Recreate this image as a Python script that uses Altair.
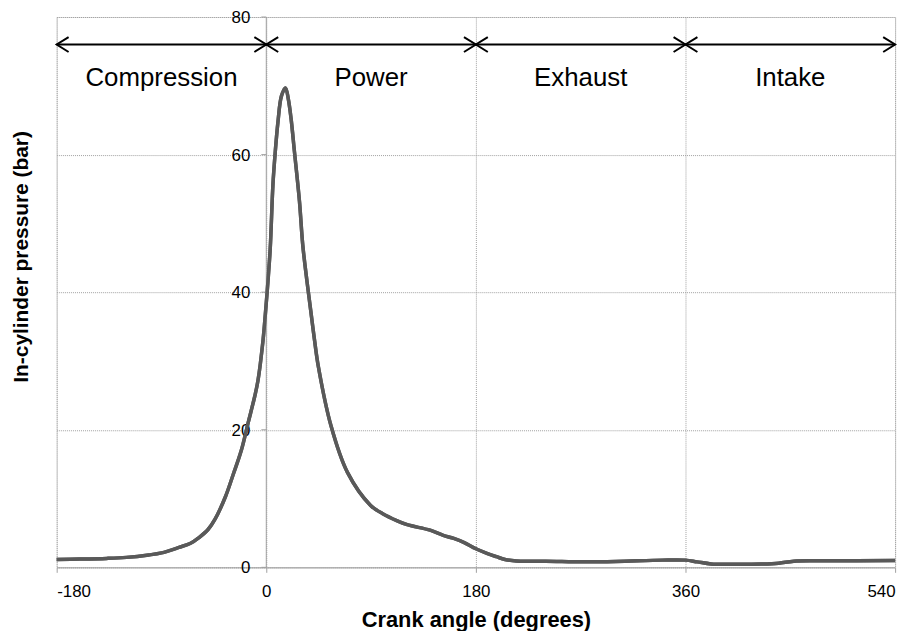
import altair as alt
import pandas as pd

# ---- data ----
angle = [-180, -160, -137, -120, -101, -90, -75, -65, -58, -50, -44, -35, -28.4,
         -21.3, -15.6, -10, -7.1, -2.8, -0.8, 1.45, 3.4, 5.7, 7.7, 10, 13, 16.5,
         19, 21.3, 24.2, 28.5, 31.3, 35, 38.4, 41.3, 44.7, 55.7, 69.7, 89.6, 100,
         112, 121, 140.7, 152, 161, 170, 180, 190, 197.6, 205, 214.7, 240, 272,
         300, 340, 360, 370, 382, 400, 425, 440, 453, 480, 540]
pressure = [1.15, 1.2, 1.3, 1.45, 1.8, 2.1, 2.9, 3.5, 4.3, 5.5, 7.0, 10.3, 13.5,
            17.1, 21.0, 24.8, 27.2, 33.0, 36.8, 41.6, 46.4, 55.6, 60.4, 64.7, 68.5, 69.7,
            68.0, 65.2, 60.4, 53.2, 46.9, 41.5, 37.0, 33.2, 29.2, 20.5, 13.8, 9.0, 7.8,
            6.8, 6.2, 5.4, 4.65, 4.2, 3.6, 2.7, 2.0, 1.55, 1.15, 0.92, 0.9, 0.8,
            0.85, 1.05, 1.05, 0.8, 0.5, 0.45, 0.48, 0.6, 0.9, 0.95, 1.0]

x_ticks = [-180, 0, 180, 360, 540]
y_ticks = [0, 20, 40, 60, 80]

phases = ["Compression", "Power", "Exhaust", "Intake"]
phase_start = [-180, 0, 180, 360]
phase_end = [0, 180, 360, 540]
arrow_level = 76
label_level = 70

# ---- tables ----
curve_df = pd.DataFrame({"angle": angle, "pressure": pressure})
phase_df = pd.DataFrame({"phase": phases, "start": phase_start, "end": phase_end})
phase_df["mid"] = (phase_df["start"] + phase_df["end"]) / 2
phase_df["arrow"] = arrow_level
phase_df["label_y"] = label_level
ytick_df = pd.DataFrame({"v": y_ticks, "zero": [0] * len(y_ticks)})
yaxis_df = pd.DataFrame({"zero": [0], "lo": [y_ticks[0]], "hi": [y_ticks[-1]]})

xs = alt.Scale(domain=[-180, 540], nice=False, zero=False)
ys = alt.Scale(domain=[0, 80], nice=False)

FONT = "Liberation Sans"
grid_color = "#a0a0a0"
axis_color = "#a0a0a0"

curve = alt.Chart(curve_df).mark_line(
    color="#595959", strokeWidth=3.5, interpolate="catmull-rom"
).encode(
    x=alt.X("angle:Q", scale=xs, axis=alt.Axis(
        values=x_ticks, grid=True, gridColor=grid_color, gridDash=[1, 1], gridWidth=1,
        domainColor=axis_color, tickColor=axis_color, tickSize=5,
        labelFontSize=17, labelColor="black", labelPadding=11, labelFont=FONT,
        labelExpr="'' + datum.value",
        title="Crank angle (degrees)", titleFontSize=22, titleFontWeight="bold",
        titleColor="black", titleFont=FONT, titleX=422, titleY=53,
        titleBaseline="middle", titleAlign="center")),
    y=alt.Y("pressure:Q", scale=ys, axis=alt.Axis(
        values=y_ticks, grid=True, gridColor=grid_color, gridDash=[1, 1], gridWidth=1,
        labels=False, ticks=False, domain=False,
        title="In-cylinder pressure (bar)", titleFontSize=21, titleFontWeight="bold",
        titleColor="black", titleFont=FONT, titleX=-35, titleY=241,
        titleBaseline="middle", titleAlign="center", titleAngle=270)),
)

yaxis_line = alt.Chart(yaxis_df).mark_rule(color=axis_color, strokeWidth=1).encode(
    x=alt.X("zero:Q", scale=xs), y=alt.Y("lo:Q", scale=ys), y2="hi:Q"
)
yaxis_ticks = alt.Chart(ytick_df).mark_rule(color=axis_color, strokeWidth=1, xOffset=-5).encode(
    x=alt.X("zero:Q", scale=xs), x2="zero:Q", y=alt.Y("v:Q", scale=ys)
)
yaxis_labels = alt.Chart(ytick_df).mark_text(
    align="right", baseline="middle", dx=-16, dy=1, fontSize=17, font=FONT, color="black"
).encode(x=alt.X("zero:Q", scale=xs), y=alt.Y("v:Q", scale=ys), text="v:Q")

arrows = alt.Chart(phase_df).mark_rule(color="black", strokeWidth=2).encode(
    x=alt.X("start:Q", scale=xs), x2="end:Q", y=alt.Y("arrow:Q", scale=ys)
)
heads_left = alt.Chart(phase_df).mark_point(
    shape="M 1.6 -1 L 0 0 L 1.6 1", filled=False, size=225, color="black",
    strokeWidth=2, opacity=1
).encode(x=alt.X("start:Q", scale=xs), y=alt.Y("arrow:Q", scale=ys))
heads_right = alt.Chart(phase_df).mark_point(
    shape="M -1.6 -1 L 0 0 L -1.6 1", filled=False, size=225, color="black",
    strokeWidth=2, opacity=1
).encode(x=alt.X("end:Q", scale=xs), y=alt.Y("arrow:Q", scale=ys))

labels = alt.Chart(phase_df).mark_text(
    align="center", baseline="alphabetic", fontSize=26, font=FONT, color="black"
).encode(x=alt.X("mid:Q", scale=xs), y=alt.Y("label_y:Q", scale=ys), text="phase:N")

chart = alt.layer(
    curve, yaxis_line, yaxis_ticks, yaxis_labels, arrows, heads_left, heads_right, labels, curve
).properties(
    width=844, height=554,
    padding={"left": 49, "top": 7, "right": 16, "bottom": 62},
    autosize=alt.AutoSizeParams(type="none"),
).configure_view(stroke=None).configure(font=FONT, background="white")

chart.save("out.html", embed_options={"renderer": "svg", "actions": False})
